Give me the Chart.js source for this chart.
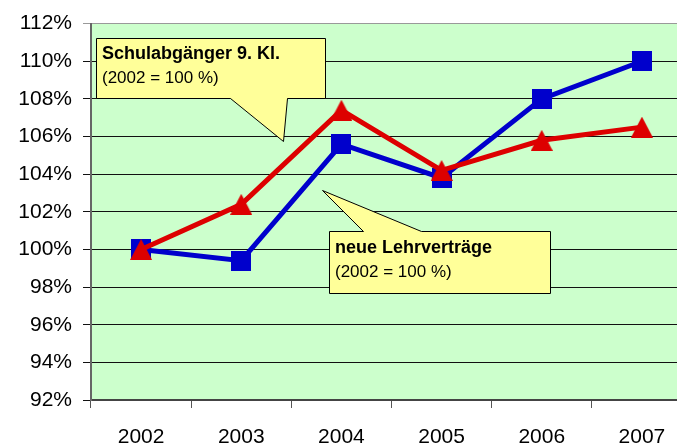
<!DOCTYPE html>
<html>
<head>
<meta charset="utf-8">
<script src="https://cdn.jsdelivr.net/npm/chart.js@4/dist/chart.umd.min.js"></script>
<style>
  body { margin: 0; background: #fff; }
  #wrap { width: 677px; height: 443px; overflow: hidden; position: relative; }
</style>
</head>
<body>
<div id="wrap"><canvas id="myChart" width="708" height="443"></canvas></div>
<script>
const years = ['2002', '2003', '2004', '2005', '2006', '2007'];
const schulabgaenger = [100, 102.4, 107.4, 104.2, 105.8, 106.5];
const lehrvertraege = [100, 99.4, 105.6, 103.8, 108.0, 110.0];
const yMin = 92;
const yMax = 112;
const yStep = 2;

const FONT = '"Liberation Sans", Arial, sans-serif';

function makeTriangle(w, h, color) {
    const c = document.createElement('canvas');
    c.width = w;
    c.height = h;
    const g = c.getContext('2d');
    g.fillStyle = color;
    g.beginPath();
    g.moveTo(w / 2, 0);
    g.lineTo(w, h);
    g.lineTo(0, h);
    g.closePath();
    g.fill();
    return c;
}

function makeSquare(s, color) {
    const c = document.createElement('canvas');
    c.width = s;
    c.height = s;
    const g = c.getContext('2d');
    g.fillStyle = color;
    g.fillRect(0, 0, s, s);
    return c;
}

// green plot background
const plotBg = {
    id: 'plotBg',
    beforeDraw(chart) {
        const a = chart.chartArea;
        const ctx = chart.ctx;
        ctx.save();
        ctx.fillStyle = '#CCFFCC';
        ctx.fillRect(a.left, a.top, a.right - a.left, a.bottom - a.top);
        ctx.restore();
    }
};

// yellow callouts
const callouts = {
    id: 'callouts',
    afterDatasetsDraw(chart) {
        const ctx = chart.ctx;
        ctx.save();
        ctx.fillStyle = '#FFFF99';
        ctx.strokeStyle = '#000';
        ctx.lineWidth = 1;

        ctx.beginPath();
        ctx.moveTo(96.5, 38.5);
        ctx.lineTo(325.5, 38.5);
        ctx.lineTo(325.5, 98.5);
        ctx.lineTo(287.5, 98.5);
        ctx.lineTo(283.5, 141.5);
        ctx.lineTo(230.5, 98.5);
        ctx.lineTo(96.5, 98.5);
        ctx.closePath();
        ctx.fill();
        ctx.stroke();

        ctx.beginPath();
        ctx.moveTo(329.5, 231.5);
        ctx.lineTo(363.5, 231.5);
        ctx.lineTo(322.5, 190.5);
        ctx.lineTo(421.5, 231.5);
        ctx.lineTo(550.5, 231.5);
        ctx.lineTo(550.5, 293.5);
        ctx.lineTo(329.5, 293.5);
        ctx.closePath();
        ctx.fill();
        ctx.stroke();

        ctx.fillStyle = '#000';
        ctx.textBaseline = 'alphabetic';
        ctx.textAlign = 'left';
        ctx.font = 'bold 18px ' + FONT;
        ctx.fillText('Schulabgänger 9. Kl.', 102, 59);
        ctx.fillText('neue Lehrverträge', 335, 253);
        ctx.font = '17px ' + FONT;
        ctx.fillText('(2002 = 100 %)', 102, 83);
        ctx.fillText('(2002 = 100 %)', 335, 277);
        ctx.restore();
    }
};

const ctx = document.getElementById('myChart');

const myChart = new Chart(ctx, {
    type: 'line',
    data: {
        labels: years,
        datasets: [
            {
                label: 'Schulabgänger 9. Kl.',
                data: schulabgaenger,
                borderColor: '#DD0000',
                backgroundColor: '#DD0000',
                borderWidth: 5,
                tension: 0,
                pointStyle: makeTriangle(22, 21, '#DD0000'),
                pointRadius: 11
            },
            {
                label: 'neue Lehrverträge',
                data: lehrvertraege,
                borderColor: '#0000CC',
                backgroundColor: '#0000CC',
                borderWidth: 5,
                tension: 0,
                pointStyle: makeSquare(20, '#0000CC'),
                pointRadius: 10
            }
        ]
    },
    options: {
        responsive: false,
        animation: false,
        layout: { padding: { top: 23, right: 7, left: 0, bottom: 0 } },
        plugins: {
            legend: { display: false },
            tooltip: { enabled: false }
        },
        scales: {
            x: {
                offset: true,
                grid: {
                    offset: true,
                    drawOnChartArea: false,
                    drawTicks: true,
                    tickLength: 8,
                    color: '#555'
                },
                border: { color: '#444', width: 2 },
                ticks: {
                    font: { family: FONT, size: 21 },
                    color: '#000',
                    padding: 17,
                    maxRotation: 0
                },
                afterFit(scale) { scale.height = 43; }
            },
            y: {
                min: yMin,
                max: yMax,
                grid: {
                    color: (c) => c.tick && c.tick.value === yMax ? '#999' : '#111',
                    lineWidth: 1,
                    tickLength: 8,
                    drawTicks: true
                },
                border: { color: '#666', width: 2 },
                ticks: {
                    stepSize: yStep,
                    font: { family: FONT, size: 21 },
                    color: '#000',
                    padding: 11,
                    callback: v => v + '%'
                },
                afterFit(scale) { scale.width = 91; }
            }
        }
    },
    plugins: [plotBg, callouts]
});
</script>
</body>
</html>
